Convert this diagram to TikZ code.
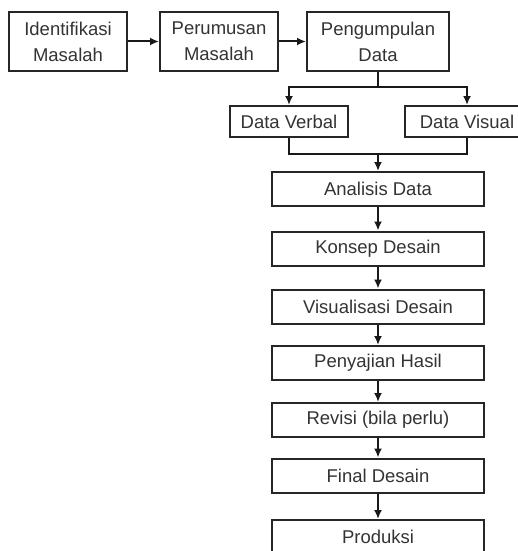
\documentclass[tikz,border=0pt]{standalone}
\usepackage{fontspec}
\setmainfont{Liberation Sans}
\usetikzlibrary{arrows.meta}
\begin{document}
\begin{tikzpicture}[x=1pt,y=-1pt, >={Latex[length=9pt,width=8pt]},
		box/.style={draw=black!85, line width=2pt, text=black!80, align=center, inner sep=0pt,
			font=\fontsize{18.5}{26}\selectfont},
		wide/.style={box, minimum width=212pt, minimum height=34pt},
		line/.style={draw=black!90, line width=2pt}]
				\useasboundingbox (0,0) rectangle (518,551);
				\draw (68,41.5) node[box, minimum width=118pt, minimum height=59pt] (1) {Identifikasi\\Masalah};
				\draw (219,41.5) node[box, minimum width=118pt, minimum height=59pt] (2) {Perumusan\\Masalah};
				\draw (378,41.5) node[box, minimum width=142pt, minimum height=59pt] (3) {Pengumpulan\\Data};
				\draw (289,121.5) node[box, minimum width=118pt, minimum height=31pt] (4) {Data Verbal};
				\draw (467,121.5) node[box, minimum width=124pt, minimum height=31pt] (5) {Data Visual};
				\draw (378,189) node[wide] (6) {Analisis Data};
				\draw (378,248.5) node[wide] (7) {Konsep Desain};
				\draw (378,306.5) node[wide] (8) {Visualisasi Desain};
				\draw (378,363) node[wide] (9) {Penyajian Hasil};
				\draw (378,420) node[wide] (10) {Revisi (bila perlu)};
				\draw (378,475.5) node[wide] (11) {Final Desain};
				\draw (378,537) node[wide] (12) {Produksi};
				\coordinate (a) at (378,87);
				\coordinate (b) at (378,154);
				\draw[->, line] (1) -- (2);
				\draw[->, line] (2) -- (3);
				\draw[line] (3) -- (a);
				\draw[->, line] (a) -| (4);
				\draw[->, line] (a) -| (5);
				\draw[line] (4) |- (b);
				\draw[line] (5) |- (b);
				\draw[->, line] (b) -- (6);
				\draw[->, line] (6) -- (7);
				\draw[->, line] (7) -- (8);
				\draw[->, line] (8) -- (9);
				\draw[->, line] (9) -- (10);
				\draw[->, line] (10) -- (11);
				\draw[->, line] (11) -- (12);
			\end{tikzpicture}
\end{document}
